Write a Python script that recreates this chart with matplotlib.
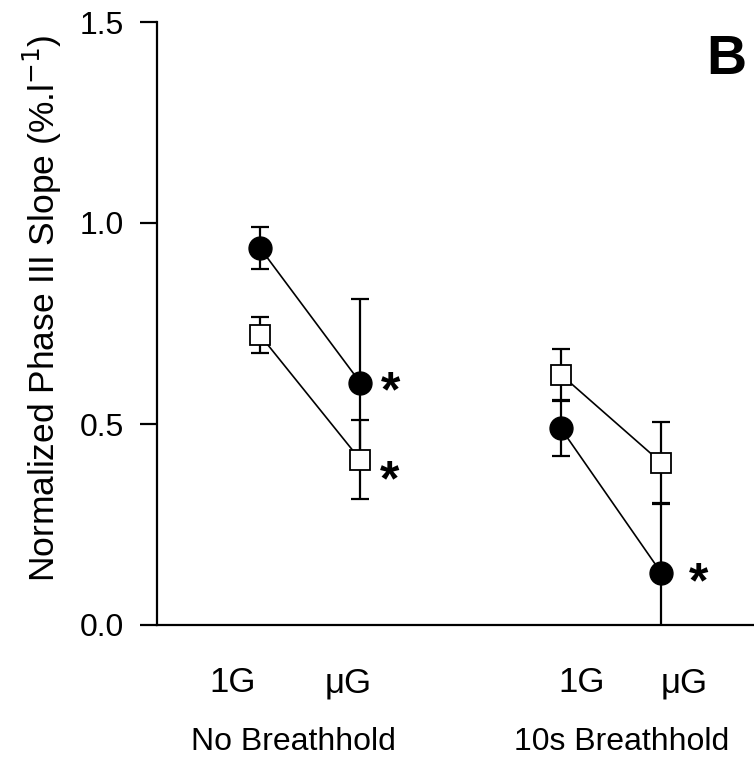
import matplotlib
matplotlib.use("Agg")
import matplotlib.pyplot as plt

plt.rcParams['font.family'] = ['Liberation Sans', 'DejaVu Sans']

# ---- data ----
conditions = ['1G', 'μG', '1G', 'μG']
groups = ['No Breathhold', '10s Breathhold']
x_pos = [1, 2, 4, 5]
filled_mean = [0.938, 0.603, 0.489, 0.130]
filled_err = [0.053, 0.207, 0.068, 0.172]
open_mean = [0.721, 0.411, 0.623, 0.404]
open_err = [0.045, 0.098, 0.063, 0.101]
significant_filled = [False, True, False, True]
significant_open = [False, True, False, False]
yticks = [0.0, 0.5, 1.0, 1.5]
ytick_labels = ['0.0', '0.5', '1.0', '1.5']

fig = plt.figure(figsize=(7.54, 7.59), dpi=100)
ax = fig.add_axes([157/754, 134/759, 1 - 157/754, (625-22)/759])

ax.set_xlim(-0.027, 5.925)
ax.set_ylim(0, 1.5)

ebkw = dict(fmt='none', ecolor='black', elinewidth=1.6, capsize=6.5, capthick=1.6, zorder=2)
ax.errorbar(x_pos, filled_mean, yerr=filled_err, **ebkw)
ax.errorbar(x_pos, open_mean, yerr=open_err, **ebkw)

for seg in (slice(0, 2), slice(2, 4)):
    ax.plot(x_pos[seg], filled_mean[seg], color='black', lw=1.2, zorder=3)
    ax.plot(x_pos[seg], open_mean[seg], color='black', lw=1.2, zorder=3)

ax.plot(x_pos, open_mean, ls='none', marker='s', ms=14.5, mfc='white', mec='black', mew=1.3, zorder=4)
ax.plot(x_pos, filled_mean, ls='none', marker='o', ms=16.5, mfc='black', mec='black', zorder=5)

for i, (x, y, s) in enumerate(zip(x_pos, filled_mean, significant_filled)):
    if s:
        dx = 15 if i < 2 else 20
        ax.annotate('*', xy=(x, y), xytext=(dx, -8), textcoords='offset points',
                    fontsize=36, fontweight='bold', ha='left', va='center')
for x, y, s in zip(x_pos, open_mean, significant_open):
    if s:
        ax.annotate('*', xy=(x, y), xytext=(14, -16), textcoords='offset points',
                    fontsize=36, fontweight='bold', ha='left', va='center')

# axes styling
for sp in ['top', 'right']:
    ax.spines[sp].set_visible(False)
ax.spines['left'].set_linewidth(1.6)
ax.spines['bottom'].set_linewidth(1.6)
ax.set_xticks([])
ax.set_yticks(yticks)
ax.set_yticklabels(ytick_labels)
ax.tick_params(axis='y', direction='out', length=12, width=1.6, pad=12, labelsize=23)

# condition labels
label_offsets = [-0.27, -0.12, 0.21, 0.23]
tr = ax.get_xaxis_transform()
for x, lab, off in zip(x_pos, conditions, label_offsets):
    ax.text(x + off, -58/603, lab, transform=tr, ha='center', va='center', fontsize=25)
group_centers = [(x_pos[0] + x_pos[1]) / 2 - 0.17, (x_pos[2] + x_pos[3]) / 2 + 0.11]
for gx, g in zip(group_centers, groups):
    ax.text(gx, -117/603, g, transform=tr, ha='center', va='center', fontsize=23)

fig.text(42/754, 1 - 308/759, 'Normalized Phase III Slope (%.l$^{-1}$)', rotation=90,
         ha='center', va='center', fontsize=25.5)
fig.text(726/754, 1 - 60/759, 'B', ha='center', va='center', fontsize=40, fontweight='bold')

fig.savefig('out.png', dpi=100)
